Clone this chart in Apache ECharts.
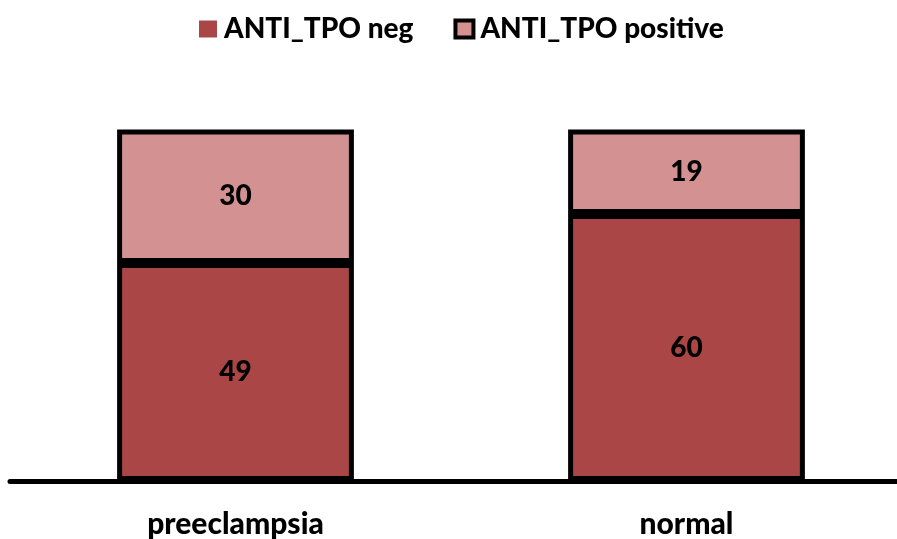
<!DOCTYPE html>
<html>
<head>
<meta charset="utf-8">
<script src="https://cdn.jsdelivr.net/npm/echarts@6/dist/echarts.min.js"></script>
<style>
  html, body { margin: 0; padding: 0; background: #fff; }
  #chart { width: 897px; height: 539px; }
</style>
</head>
<body>
<div id="chart"></div>
<script>
var categories = ["preeclampsia", "normal"];
var negValues = [49, 60];
var posValues = [30, 19];
var seriesNames = ["ANTI_TPO neg", "ANTI_TPO positive"];

var chart = echarts.init(document.getElementById("chart"));
var font = "Lato, 'Open Sans', sans-serif";
var weight = 900;

chart.setOption({
  animation: false,
  legend: {
    top: 10,
    left: 194,
    icon: "rect",
    itemWidth: 18,
    itemHeight: 17,
    itemGap: 40,
    textStyle: { fontFamily: font, fontWeight: weight, fontSize: 28, color: "#000", padding: [0, 0, 0, 2] },
    data: [
      { name: seriesNames[0], itemStyle: { borderWidth: 0 } },
      { name: seriesNames[1], itemStyle: { borderWidth: 4, borderColor: "#000" } }
    ]
  },
  grid: { left: 10, width: 902, top: 125, bottom: 58, outerBoundsMode: "none", containLabel: false },
  xAxis: {
    type: "category",
    data: categories,
    axisLine: { show: true, lineStyle: { color: "#000", width: 5 } },
    axisTick: { show: false },
    axisLabel: { margin: 28, fontFamily: font, fontWeight: weight, fontSize: 30, color: "#000" }
  },
  yAxis: {
    type: "value",
    min: 0,
    max: 80,
    show: false
  },
  series: [
    {
      name: seriesNames[0],
      type: "bar",
      stack: "total",
      barWidth: "52.5%",
      data: negValues,
      itemStyle: { color: "#AA4645", borderColor: "#000", borderWidth: 5 },
      label: { show: true, position: "inside", fontFamily: font, fontWeight: weight, fontSize: 28, color: "#000" }
    },
    {
      name: seriesNames[1],
      type: "bar",
      stack: "total",
      data: posValues,
      itemStyle: { color: "#D39291", borderColor: "#000", borderWidth: 5 },
      label: { show: true, position: "inside", fontFamily: font, fontWeight: weight, fontSize: 28, color: "#000" }
    }
  ]
});
</script>
</body>
</html>
